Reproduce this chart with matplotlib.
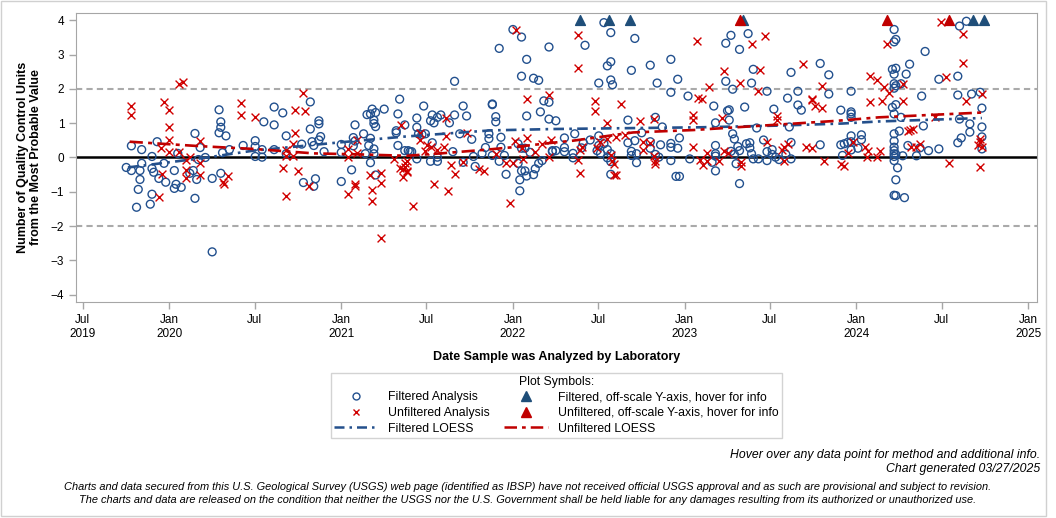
'''USGS IBSP quality control chart - units from the most probable value over time'''

import pandas as pd
import matplotlib
matplotlib.use("Agg")
import matplotlib.pyplot as plt
import matplotlib.dates as mdates
from matplotlib.lines import Line2D
from matplotlib.patches import Rectangle

plt.rcParams['font.family'] = ['Liberation Sans', 'DejaVu Sans']

#filtered analyses, x in decimal years
filt_year = [2019.78, 2019.84, 2019.90, 2019.93, 2019.75, 2019.78, 2019.83, 2019.84, 2019.90, 2019.91,
             2019.94, 2019.97, 2019.98, 2019.83, 2019.82, 2019.81, 2019.89, 2019.90, 2020.03, 2020.04,
             2020.03, 2020.07, 2020.12, 2020.14, 2020.16, 2020.15, 2020.15, 2020.18, 2020.17, 2020.05,
             2020.21, 2020.25, 2020.30, 2020.25, 2020.29, 2020.30, 2020.30, 2020.29, 2020.33, 2020.31,
             2020.35, 2020.43, 2020.50, 2020.50, 2020.50, 2020.54, 2020.55, 2020.54, 2020.61, 2020.66,
             2020.61, 2020.61, 2020.68, 2020.68, 2020.77, 2020.82, 2020.82, 2020.87, 2020.87, 2020.88,
             2020.87, 2020.83, 2020.84, 2020.90, 2020.78, 2020.85, 2020.84, 2021.00, 2021.00, 2021.00,
             2021.06, 2021.07, 2021.08, 2021.08, 2021.07, 2021.13, 2021.17, 2021.16, 2021.19, 2021.17,
             2021.19, 2021.14, 2021.18, 2021.15, 2021.17, 2021.20, 2021.19, 2021.19, 2021.20, 2021.25,
             2021.20, 2021.34, 2021.33, 2021.37, 2021.32, 2021.32, 2021.33, 2021.37, 2021.39, 2021.44,
             2021.48, 2021.44, 2021.52, 2021.53, 2021.54, 2021.56, 2021.58, 2021.53, 2021.45, 2021.47,
             2021.49, 2021.63, 2021.66, 2021.66, 2021.71, 2021.73, 2021.76, 2021.69, 2021.86, 2021.86,
             2021.88, 2021.88, 2021.90, 2021.90, 2021.93, 2021.93, 2021.84, 2021.77, 2021.82, 2021.88,
             2021.95, 2021.92, 2021.78, 2021.96, 2021.92, 2022.00, 2022.05, 2022.08, 2022.05, 2022.12,
             2022.15, 2022.21, 2022.18, 2022.21, 2022.08, 2022.16, 2022.21, 2021.40, 2021.41, 2021.44,
             2021.52, 2021.56, 2021.56, 2021.65, 2021.71, 2022.03, 2022.05, 2022.07, 2022.03, 2022.05,
             2022.07, 2022.08, 2022.04, 2022.04, 2022.12, 2022.13, 2022.15, 2022.17, 2022.23, 2022.23,
             2022.10, 2022.53, 2022.57, 2022.42, 2022.71, 2022.55, 2022.57, 2022.69, 2022.50, 2022.57,
             2022.58, 2022.80, 2022.84, 2022.92, 2022.96, 2022.92, 2023.02, 2022.25, 2022.67, 2022.83,
             2022.87, 2022.30, 2022.36, 2022.45, 2022.50, 2022.53, 2022.50, 2022.41, 2022.40, 2022.30,
             2022.30, 2022.25, 2022.35, 2022.35, 2022.49, 2022.51, 2022.55, 2022.57, 2022.55, 2022.57,
             2022.67, 2022.69, 2022.69, 2022.72, 2022.72, 2022.71, 2022.75, 2022.80, 2022.80, 2022.83,
             2022.86, 2022.85, 2022.92, 2022.92, 2022.96, 2022.97, 2022.92, 2023.03, 2022.57, 2022.95,
             2022.97, 2023.27, 2023.24, 2023.32, 2023.37, 2023.40, 2023.39, 2023.24, 2023.28, 2023.48,
             2023.62, 2023.79, 2023.84, 2023.66, 2023.84, 2023.60, 2023.66, 2023.68, 2023.52, 2023.35,
             2023.17, 2023.25, 2023.26, 2023.26, 2023.18, 2023.42, 2023.61, 2023.91, 2023.28, 2023.29,
             2023.18, 2023.18, 2023.18, 2023.31, 2023.36, 2023.38, 2023.38, 2023.46, 2023.48, 2023.27,
             2023.29, 2023.32, 2023.39, 2023.40, 2023.43, 2023.48, 2023.51, 2023.51, 2023.53, 2023.55,
             2023.59, 2023.62, 2023.62, 2023.79, 2023.91, 2023.92, 2023.16, 2023.18, 2023.30, 2023.32,
             2024.22, 2024.23, 2024.22, 2024.40, 2024.31, 2024.29, 2024.21, 2024.23, 2024.22, 2024.22,
             2024.23, 2024.22, 2024.26, 2023.97, 2024.38, 2023.97, 2023.97, 2023.97, 2024.21, 2024.23,
             2024.22, 2024.26, 2024.48, 2024.59, 2024.60, 2024.64, 2024.59, 2024.67, 2024.72, 2024.73,
             2024.73, 2024.73, 2024.66, 2024.66, 2024.60, 2024.61, 2024.59, 2024.73, 2024.39, 2024.25,
             2024.22, 2024.22, 2023.97, 2024.03, 2024.03, 2023.93, 2023.95, 2023.97, 2024.01, 2023.97,
             2024.22, 2024.22, 2024.22, 2024.22, 2024.23, 2024.22, 2024.24, 2024.27, 2024.35, 2024.30,
             2024.37, 2024.42, 2024.48, 2024.23, 2024.22, 2024.23, 2024.28]
filt_val = [0.34, 0.23, 0.03, 0.46, -0.29, -0.38, -0.38, -0.17, -0.32, -0.43,
            -0.61, -0.17, -0.72, -0.64, -0.93, -1.45, -1.36, -1.07, -0.38, -0.78,
            -0.90, -0.87, -0.46, -0.38, -0.64, -1.19, 0.70, 0.29, -0.06, 0.12,
            0.00, -0.61, -0.46, -2.75, 1.39, 1.04, 0.88, 0.72, 0.63, 0.14,
            0.23, 0.35, 0.49, 0.32, 0.03, 0.23, 1.04, 0.01, 1.47, 1.30,
            0.95, 0.23, 0.63, 0.11, 0.39, 1.62, 0.83, 1.07, 0.98, 0.61,
            0.51, 0.46, 0.35, 0.17, -0.73, -0.62, -0.84, 0.38, 0.15, -0.70,
            -0.36, 0.58, 0.48, 0.95, 0.34, 0.69, 0.56, 0.35, 0.25, -0.15,
            0.11, 0.11, 1.41, 1.25, 1.27, 1.31, 1.09, 0.99, 0.90, 1.41,
            -0.51, 1.70, 1.27, 0.95, 0.78, 0.72, 0.35, 0.20, 0.20, 1.15,
            1.50, 0.88, 1.07, 1.24, 1.01, 1.17, 1.24, 0.43, 0.69, 0.67,
            0.69, 1.01, 1.24, 2.22, 1.50, 1.21, 0.53, 0.69, 0.69, 0.55,
            1.56, 1.54, 1.19, 1.04, 0.59, 0.30, 0.29, 0.03, 0.12, 0.06,
            0.06, -0.11, -0.26, -0.49, 3.18, 3.73, 3.51, 2.86, 2.37, 2.31,
            2.25, 3.22, 1.65, 1.61, 1.21, 1.33, 1.12, 0.17, 0.17, -0.04,
            -0.11, -0.11, 0.01, 0.17, -0.14, 0.40, 0.27, 0.27, -0.17, -0.39,
            -0.39, -0.54, -0.65, -0.97, -0.50, -0.33, -0.17, -0.09, 0.17, 0.20,
            0.15, 3.93, 3.64, 3.27, 3.47, 2.67, 2.79, 2.54, 2.17, 2.26,
            2.12, 2.69, 2.17, 2.86, 2.28, 1.90, 1.79, 1.07, 1.09, 1.17,
            0.89, 0.57, 0.69, 0.51, 0.63, 0.40, 0.35, 0.43, 0.28, 0.29,
            0.17, 0.20, 0.12, -0.01, 0.20, 0.12, 0.23, 0.11, -0.01, -0.12,
            0.43, 0.18, 0.06, 0.11, -0.15, 0.49, 0.72, 0.46, 0.27, 0.09,
            0.37, 0.01, 0.41, 0.30, 0.27, 0.57, -0.09, -0.04, -0.49, -0.55,
            -0.55, 3.56, 3.33, 3.15, 3.61, 2.57, 2.17, 2.22, 1.99, 1.93,
            2.48, 2.74, 2.41, 1.93, 1.85, 1.73, 1.53, 1.38, 1.41, 1.47,
            1.50, 1.36, 1.39, 1.09, 1.01, 0.86, 0.89, 1.38, 0.69, 0.54,
            0.35, 0.11, 0.04, 0.32, 0.40, 0.43, 0.28, 0.51, 0.17, 0.18,
            0.09, 0.20, 0.11, -0.04, -0.04, -0.09, 0.23, 0.09, 0.01, -0.06,
            0.09, 0.44, -0.04, 0.37, 0.37, 0.06, -0.14, -0.39, -0.18, -0.76,
            3.73, 3.44, 3.37, 3.09, 2.72, 2.43, 2.57, 2.60, 2.43, 2.15,
            2.09, 2.02, 2.15, 1.93, 1.79, 1.33, 1.27, 1.17, 1.46, 1.54,
            1.27, 1.17, 2.28, 2.37, 3.83, 3.97, 1.82, 1.85, 1.90, 1.44,
            0.89, 0.60, 0.98, 0.74, 1.12, 0.57, 0.43, 0.25, 0.92, 0.77,
            0.69, 0.48, 0.63, 0.66, 0.52, 0.40, 0.44, 0.46, 0.27, 0.22,
            0.30, 0.20, 0.11, 0.03, 0.09, -0.09, -0.30, 0.05, 0.05, 0.35,
            0.28, 0.20, 0.25, -0.65, -1.10, -1.11, -1.17]

#unfiltered analyses
unf_year = [2019.78, 2019.78, 2019.97, 2020.00, 2020.00, 2020.00, 2019.95, 2020.00, 2020.06, 2020.08,
            2020.06, 2020.18, 2020.12, 2020.10, 2020.18, 2020.10, 2020.10, 2020.18, 2019.96, 2019.94,
            2020.31, 2020.32, 2020.34, 2020.42, 2020.42, 2020.50, 2020.78, 2020.73, 2020.79, 2020.73,
            2020.72, 2020.68, 2020.72, 2020.68, 2020.66, 2020.75, 2020.68, 2020.81, 2021.04, 2021.04,
            2021.09, 2021.09, 2021.08, 2021.08, 2021.04, 2021.17, 2021.23, 2021.23, 2021.18, 2021.18,
            2021.23, 2021.31, 2021.35, 2021.34, 2021.36, 2021.38, 2021.37, 2021.36, 2021.38, 2022.02,
            2022.08, 2022.21, 2021.61, 2021.73, 2021.61, 2021.46, 2021.46, 2021.50, 2021.49, 2021.52,
            2021.56, 2021.60, 2021.54, 2021.62, 2021.42, 2021.64, 2021.66, 2021.71, 2021.80, 2021.83,
            2021.90, 2021.96, 2022.00, 2021.98, 2022.01, 2022.05, 2022.08, 2022.06, 2022.13, 2022.17,
            2022.21, 2022.22, 2021.37, 2021.38, 2022.38, 2022.38, 2023.07, 2022.48, 2022.48, 2022.63,
            2022.55, 2022.74, 2022.82, 2023.05, 2023.05, 2023.08, 2022.38, 2022.39, 2022.40, 2022.39,
            2022.49, 2022.51, 2022.55, 2022.60, 2022.65, 2022.57, 2022.58, 2022.59, 2022.59, 2022.60,
            2022.76, 2022.76, 2022.80, 2022.82, 2022.83, 2022.83, 2023.05, 2023.39, 2023.47, 2023.23,
            2023.44, 2023.32, 2023.43, 2023.14, 2023.10, 2023.69, 2023.80, 2023.74, 2023.74, 2023.76,
            2023.80, 2023.54, 2023.54, 2023.22, 2023.48, 2023.13, 2023.13, 2023.09, 2023.11, 2023.20,
            2023.23, 2023.25, 2023.33, 2023.33, 2023.57, 2023.58, 2023.60, 2023.58, 2023.71, 2023.74,
            2023.81, 2023.91, 2024.49, 2024.62, 2024.18, 2024.62, 2024.08, 2024.12, 2024.16, 2024.19,
            2024.27, 2024.52, 2024.08, 2024.15, 2024.27, 2024.64, 2024.73, 2024.46, 2024.31, 2024.33,
            2024.30, 2023.95, 2023.98, 2024.05, 2024.07, 2024.06, 2024.12, 2024.14, 2024.32, 2024.35,
            2024.37, 2023.93, 2024.54, 2024.72, 2024.72, 2024.71, 2024.73, 2024.72]
unf_val = [1.50, 1.24, 1.62, 1.38, 0.89, 0.52, 0.27, 0.15, 2.15, 2.19,
           0.15, 0.49, 0.00, -0.08, -0.17, -0.35, -0.59, -0.50, -0.47, -1.14,
           -0.70, -0.77, -0.53, 1.59, 1.24, 1.18, 1.88, 1.38, 1.36, 0.72,
           0.38, 0.22, 0.05, 0.04, -0.30, -0.39, -1.11, -0.84, 0.26, 0.00,
           0.51, 0.12, -0.77, -0.83, -1.07, -0.50, -0.44, -0.74, -0.94, -1.27,
           -2.36, -0.05, 0.96, -0.30, -0.34, -0.38, -0.17, -0.57, -0.43, 3.73,
           1.70, 1.83, 1.15, 0.72, 0.64, 0.70, 0.51, 0.35, 0.20, 0.32,
           0.23, 0.31, -0.76, -0.97, -1.40, -0.21, -0.47, -0.14, -0.33, -0.39,
           0.09, -0.15, -0.17, -1.33, 0.47, 0.27, 0.58, -0.05, 0.15, 0.40,
           0.01, 0.51, -0.28, -0.09, 3.56, 2.60, 3.39, 1.65, 1.36, 1.56,
           1.01, 1.07, 1.12, 1.25, 1.10, 1.73, -0.06, 0.22, 0.32, -0.44,
           0.28, 0.46, 0.54, 0.59, 0.67, 0.06, -0.11, -0.20, -0.51, -0.51,
           0.46, 0.22, 0.41, 0.04, -0.09, -0.18, 0.32, 3.30, 3.54, 2.51,
           2.54, 2.17, 1.93, 2.05, 1.70, 2.72, 2.09, 1.70, 1.67, 1.49,
           1.44, 1.22, 1.10, 1.14, 0.46, 0.14, -0.09, -0.07, -0.23, -0.11,
           0.20, 0.12, -0.14, -0.26, 0.22, 0.30, 0.40, -0.11, 0.30, 0.28,
           -0.09, -0.18, 3.94, 3.59, 3.30, 2.76, 2.37, 2.25, 2.04, 1.89,
           2.14, 2.35, 1.61, 1.65, 1.65, 1.65, 1.85, 1.17, 0.81, 0.84,
           0.76, 0.12, 0.44, 0.30, 0.18, 0.01, 0.01, 0.20, 0.30, 0.30,
           0.38, -0.24, -0.15, 0.54, 0.44, 0.35, 0.30, -0.28]

#off-scale points, drawn at the top of the y axis
filt_off_year = [2022.39, 2022.56, 2022.68, 2023.34, 2024.68, 2024.74]
unf_off_year = [2023.32, 2024.18, 2024.54]
off_scale_val = 4.0

#LOESS curves
filt_loess_year = [2019.76, 2020.22, 2020.49, 2020.99, 2021.37, 2021.87, 2022.24, 2023.09, 2023.55, 2023.92, 2024.13, 2024.73]
filt_loess_val = [-0.29, 0.00, 0.20, 0.44, 0.61, 0.79, 0.83, 0.88, 0.93, 0.99, 1.05, 1.15]
unf_loess_year = [2019.77, 2020.18, 2020.49, 2020.84, 2021.11, 2021.38, 2021.58, 2021.85, 2022.00, 2022.23, 2022.35, 2022.70, 2023.05, 2023.55, 2023.89, 2024.13, 2024.73]
unf_loess_val = [0.46, 0.33, 0.25, 0.12, 0.09, 0.05, 0.12, 0.23, 0.30, 0.43, 0.49, 0.73, 0.80, 0.96, 1.07, 1.17, 1.31]

BLUE = '#22508E'
RED = '#D00000'
GREY = '#A6A6A6'


def toDates(years):
    #decimal year -> timestamp
    out = []
    for v in years:
        y = int(v)
        start = pd.Timestamp(year=y, month=1, day=1)
        end = pd.Timestamp(year=y + 1, month=1, day=1)
        out.append(start + (end - start) * (v - y))
    return out


def tickLabel(x, pos):
    d = mdates.num2date(x)
    if d.month == 1 or pos == 0:
        return d.strftime('%b') + '\n' + str(d.year)
    return d.strftime('%b')


def main():
    fig = plt.figure(figsize=(10.56, 5.18), dpi=100)
    ax = fig.add_axes([0.072, 0.4164, 0.9103, 0.5591])

    #reference lines
    ax.axhline(0, color='black', lw=1.8, zorder=1)
    for yv in (2, -2):
        ax.axhline(yv, color='#AAAAAA', lw=1.5, ls=(0, (3, 2)), zorder=1)

    ax.scatter(toDates(filt_year), filt_val, s=32, facecolors='none', edgecolors=BLUE, linewidths=1.0, zorder=3)
    ax.scatter(toDates(unf_year), unf_val, s=32, marker='x', color=RED, linewidths=1.0, zorder=3)
    ax.scatter(toDates(filt_off_year), [off_scale_val] * len(filt_off_year), s=50, marker='^', color='#1F4E79', zorder=4)
    ax.scatter(toDates(unf_off_year), [off_scale_val] * len(unf_off_year), s=50, marker='^', color='#C00000', zorder=4)

    ax.plot(toDates(filt_loess_year), filt_loess_val, color='#24508C', lw=1.9, dashes=(4, 2, 1, 2), zorder=5)
    ax.plot(toDates(unf_loess_year), unf_loess_val, color='#C00000', lw=1.9, dashes=(5, 2, 1.5, 2), zorder=5)

    #axes
    ax.set_xlim(pd.Timestamp('2019-06-17'), pd.Timestamp('2025-01-20'))
    ax.set_ylim(-4.22, 4.22)
    ax.set_yticks(range(-4, 5))
    ax.xaxis.set_major_locator(mdates.MonthLocator(bymonth=[1, 7]))
    ax.xaxis.set_major_formatter(plt.FuncFormatter(tickLabel))
    ax.tick_params(axis='both', colors=GREY, labelcolor='black', labelsize=8.5, length=5, width=1)
    for sp in ax.spines.values():
        sp.set_color(GREY)

    ax.set_xlabel('Date Sample was Analyzed by Laboratory', fontsize=9, fontweight='bold', labelpad=8)
    ax.set_ylabel('Number of Quality Control Units\nfrom the Most Probable Value', fontsize=9, fontweight='bold', labelpad=6)

    #legend
    handles = [
        Line2D([], [], ls='none', marker='o', mfc='none', mec=BLUE, ms=5),
        Line2D([], [], ls='none', marker='x', color=RED, ms=5),
        Line2D([], [], color='#24508C', lw=1.8, dashes=(4, 2, 1, 2)),
        Line2D([], [], ls='none', marker='^', color='#1F4E79', ms=7),
        Line2D([], [], ls='none', marker='^', color='#C00000', ms=7),
        Line2D([], [], color='#C00000', lw=1.8, dashes=(5, 2, 1.5, 2)),
    ]
    labels = ['Filtered Analysis', 'Unfiltered Analysis', 'Filtered LOESS',
              'Filtered, off-scale Y-axis, hover for info', 'Unfiltered, off-scale Y-axis, hover for info',
              'Unfiltered LOESS']
    leg = fig.legend(handles, labels, ncol=2, title='Plot Symbols:', loc='center',
                     bbox_to_anchor=(0.527, 0.218), fontsize=8.8, title_fontsize=8.8,
                     frameon=True, fancybox=False, edgecolor='#C8C8C8', handlelength=3.6,
                     handletextpad=0.8, columnspacing=1.2, labelspacing=0.3, borderpad=0.25)
    leg.get_frame().set_linewidth(1.0)

    #footer text
    fig.text(0.985, 0.122, 'Hover over any data point for method and additional info.',
             ha='right', va='center', fontsize=8.8, style='italic')
    fig.text(0.985, 0.094, 'Chart generated 03/27/2025', ha='right', va='center', fontsize=8.8, style='italic')
    fig.text(0.50, 0.060, 'Charts and data secured from this U.S. Geological Survey (USGS) web page (identified as IBSP) '
             'have not received official USGS approval and as such are provisional and subject to revision.',
             ha='center', va='center', fontsize=7.9, style='italic')
    fig.text(0.50, 0.035, 'The charts and data are released on the condition that neither the USGS nor the U.S. '
             'Government shall be held liable for any damages resulting from its authorized or unauthorized use.',
             ha='center', va='center', fontsize=7.9, style='italic')

    #outer border
    fig.patches.append(Rectangle((0.001, 0.003), 0.990, 0.996, transform=fig.transFigure,
                                 fill=False, edgecolor='#D0D0D0', lw=1.0))

    fig.savefig('out.png', dpi=100)


if __name__ == "__main__":
    main()
